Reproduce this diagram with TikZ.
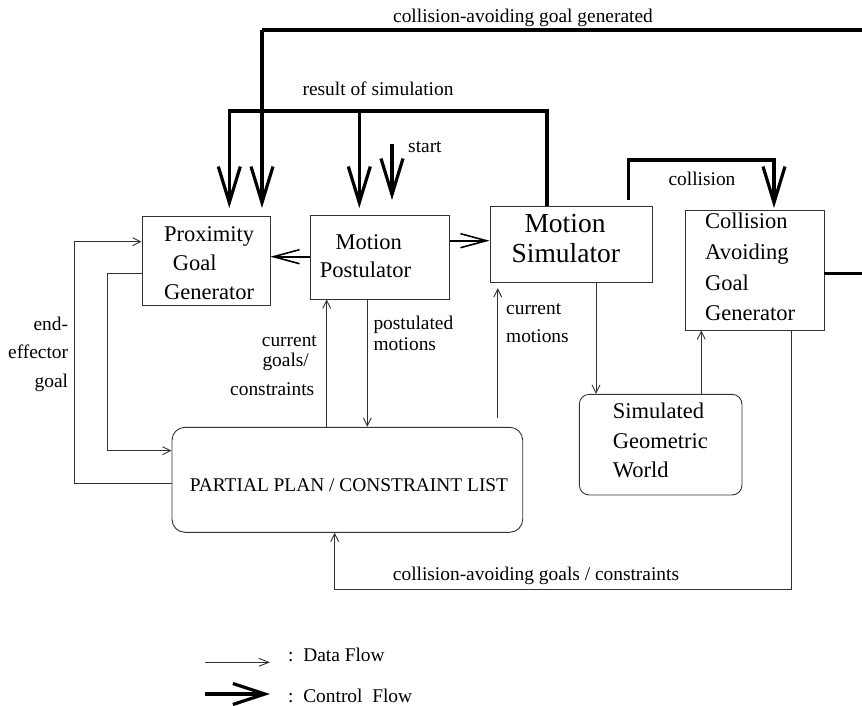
\documentclass[tikz,border=0pt]{standalone}
\usepackage{fontspec}
\setmainfont{Liberation Serif}
\usetikzlibrary{arrows.meta}
\newcommand\fz[1]{\fontsize{#1}{#1}\selectfont}
\begin{document}
\begin{tikzpicture}[x=1pt,y=-1pt,
  boxs/.style={draw=black!80, line width=0.9pt, inner sep=0pt},
  data/.style={draw=black!80, line width=0.9pt, -{Straight Barb[length=8pt,width=8pt]}},
  mid/.style={line width=1.6pt, -{Straight Barb[length=26pt,width=14pt]}},
  ctrl/.style={line width=3.2pt, -{Straight Barb[length=36pt,width=22pt]}},
  thickline/.style={line width=3.2pt},
  lab/.style={font=\fz{19.4}, inner sep=0pt},
  btx/.style={font=\fz{22.5}, inner sep=0pt},
  bigtx/.style={font=\fz{27.5}, inner sep=0pt}]
\useasboundingbox (0,0) rectangle (862,706);

% boxes
\node[boxs, minimum width=128pt, minimum height=89pt] (pgg) at (206,260.5) {};
\node[boxs, minimum width=138.6pt, minimum height=84pt] (mp) at (380,257) {};
\node[boxs, minimum width=162.7pt, minimum height=76pt] (ms) at (571.35,244.7) {};
\node[boxs, minimum width=138.7pt, minimum height=120pt] (cagg) at (754.65,270) {};
\node[boxs, rounded corners=10pt, minimum width=162.7pt, minimum height=100.7pt] (sgw) at (660.65,444.65) {};
\node[boxs, rounded corners=13pt, minimum width=350.7pt, minimum height=105pt] (plan) at (347.35,479.8) {};

% box texts
\node[btx, anchor=base west] (t1) at (164,241.7) {Proximity};
\node[btx, anchor=base west] (t2) at (172.7,270) {Goal};
\node[btx, anchor=base west] (t3) at (164,299) {Generator};
\node[btx, anchor=base] (t4) at (368.8,249) {Motion};
\node[btx, anchor=base] (t5) at (365.5,277.7) {Postulator};
\node[bigtx, anchor=base] (t6) at (565,232.7) {Motion};
\node[bigtx, anchor=base] (t7) at (565.8,262) {Simulator};
\node[btx, anchor=base west] (t8) at (705,228.3) {Collision};
\node[btx, anchor=base west] (t9) at (705,259.3) {Avoiding};
\node[btx, anchor=base west] (t10) at (705,290) {Goal};
\node[btx, anchor=base west] (t11) at (705,320) {Generator};
\node[btx, anchor=base west] (t12) at (612.7,418.3) {Simulated};
\node[btx, anchor=base west] (t13) at (612.7,448.3) {Geometric};
\node[btx, anchor=base west] (t14) at (612.7,477.7) {World};
\node[lab, anchor=base] (t15) at (349,491.7) {PARTIAL PLAN / CONSTRAINT LIST};

% helper coordinates
\coordinate (ytip) at (0,208);
\coordinate (xa) at (229.3,111);
\coordinate (xb) at (359.3,111);
\coordinate (xc) at (547,111);
\coordinate (xd) at (262,30);
\coordinate (xe) at (866,30);
\coordinate (ye) at (866,273.3);
\coordinate (st) at (392,144);
\coordinate (ca) at (628.5,200);
\coordinate (cb) at (628.5,160);
\coordinate (cc) at (774,160);
\coordinate (xcg) at (326.7,0);
\coordinate (xpm) at (367.3,0);
\coordinate (cm) at (497.7,418.3);
\coordinate (xsw) at (596,0);
\coordinate (xwc) at (701.3,0);
\coordinate (xcp) at (791,589);
\coordinate (xpc) at (334.7,589);
\coordinate (ga) at (107.3,273.3);
\coordinate (gb) at (107.3,450.7);
\coordinate (ea) at (74,483.7);
\coordinate (eb) at (74,241.7);
\coordinate (ymp) at (0,256.7);
\coordinate (yms) at (0,240.7);

% control flow
\draw[thickline] (cagg.east |- ye) -- (ye) -- (xe) -- (xd);
\draw[ctrl] (xd) -- (xd |- ytip);
\draw[ctrl] (ms.north -| xc) -- (xc) -- (xa) -- (xa |- ytip);
\draw[ctrl] (xb) -- (xb |- ytip);
\draw[ctrl] (st) -- (st |- 0,200);
\draw[ctrl] (ca) -- (cb) -- (cc) -- (cc |- ytip);

% data flow
\draw[mid] (mp.west |- ymp) -- (pgg.east |- ymp);
\draw[mid] (mp.east |- yms) -- (ms.west |- yms);
\draw[data] (xcg |- plan.north) -- (xcg |- mp.south);
\draw[data] (xpm |- mp.south) -- (xpm |- plan.north);
\draw[data, shorten >=5pt] (cm) -- (cm |- ms.south);
\draw[data] (xsw |- ms.south) -- (xsw |- sgw.north);
\draw[data] (xwc |- sgw.north) -- (xwc |- cagg.south);
\draw[data] (xcp |- cagg.south) -- (xcp) -- (xpc) -- (xpc |- plan.south);
\draw[data] (pgg.west |- ga) -- (ga) -- (gb) -- (plan.west |- gb);
\draw[data] (plan.west |- ea) -- (ea) -- (eb) -- (pgg.west |- eb);

% labels
\node[lab, anchor=base] (l1) at (523,22.5) {collision-avoiding goal generated};
\node[lab, anchor=base] (l2) at (378,95.7) {result of simulation};
\node[lab, anchor=base west] (l3) at (408,152.7) {start};
\node[lab, anchor=base] (l4) at (702,185) {collision};
\node[lab, anchor=base east] (l5) at (68.3,330) {end-};
\node[lab, anchor=base east] (l6) at (68.3,358.3) {effector};
\node[lab, anchor=base east] (l7) at (68.3,387) {goal};
\node[lab, anchor=base west] (l8) at (261.7,346.7) {current};
\node[lab, anchor=base west] (l9) at (262.3,366.7) {goals/};
\node[lab, anchor=base west] (l10) at (230,395) {constraints};
\node[lab, anchor=base west] (l11) at (373.3,329.5) {postulated};
\node[lab, anchor=base west] (l12) at (373.3,350.5) {motions};
\node[lab, anchor=base west] (l13) at (506,314.3) {current};
\node[lab, anchor=base west] (l14) at (506,342.7) {motions};
\node[lab, anchor=base] (l15) at (536,580) {collision-avoiding goals / constraints};

% legend
\coordinate (la) at (205,662.3);
\coordinate (lb) at (270,662.3);
\coordinate (lc) at (205,694);
\coordinate (ld) at (270,694);
\draw[draw=black!80, line width=0.9pt, -{Straight Barb[length=10pt,width=8pt]}] (la) -- (lb);
\draw[line width=3.2pt, -{Straight Barb[length=32pt,width=21pt]}] (lc) -- (ld);
\node[lab, anchor=base west] (l16) at (288,661.7) {:\ \ Data Flow};
\node[lab, anchor=base west] (l17) at (288,702) {:\ \ Control\ \ Flow};
\end{tikzpicture}
\end{document}
